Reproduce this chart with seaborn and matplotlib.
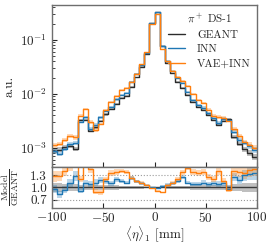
import numpy as np
import pandas as pd
import matplotlib
matplotlib.use("Agg")
import matplotlib.pyplot as plt
import seaborn as sns

# bin edges of the <eta>_1 histogram [mm]
edges = np.linspace(-100, 100, 41)

# GEANT reference, log10 of normalised counts per bin
geant_log = [-3.05, -3.03, -2.99, -2.96, -3.02, -2.48, -2.48, -2.68, -2.62, -2.50,
             -2.38, -2.28, -2.18, -2.08, -2.03, -1.87, -1.69, -1.50, -1.26, -0.69,
             -0.48, -1.12, -1.42, -1.62, -1.77, -1.89, -2.02, -2.14, -2.24, -2.30,
             -2.39, -2.48, -2.57, -2.50, -2.47, -2.80, -2.92, -3.02, -3.09, -3.16]

# model / GEANT ratios
ratio_inn = [0.97, 0.83, 0.95, 1.10, 1.28, 0.92, 1.12, 1.08, 1.12, 1.18,
             1.15, 1.10, 1.20, 1.16, 1.12, 1.22, 1.15, 1.10, 1.05, 1.00,
             0.99, 1.03, 1.07, 1.10, 1.15, 1.25, 1.12, 1.08, 1.08, 1.12,
             1.08, 1.10, 1.08, 1.10, 0.97, 1.25, 1.18, 1.30, 1.32, 1.35]
ratio_vae = [1.27, 1.28, 1.40, 1.55, 1.65, 1.20, 1.60, 1.45, 0.90, 0.88,
             1.20, 1.35, 1.38, 1.40, 1.38, 1.22, 1.15, 1.12, 1.07, 0.98,
             0.92, 0.88, 1.05, 1.12, 1.20, 1.37, 1.48, 1.38, 1.35, 1.37,
             1.25, 1.20, 1.40, 1.15, 0.95, 1.40, 1.38, 1.35, 1.42, 1.45]

# relative statistical uncertainty per bin
rel_err = [0.10, 0.10, 0.09, 0.09, 0.09, 0.06, 0.06, 0.07, 0.07, 0.06,
           0.05, 0.05, 0.05, 0.04, 0.04, 0.04, 0.03, 0.03, 0.02, 0.01,
           0.01, 0.02, 0.03, 0.03, 0.04, 0.04, 0.04, 0.05, 0.05, 0.05,
           0.06, 0.06, 0.07, 0.06, 0.06, 0.08, 0.09, 0.10, 0.11, 0.12]

models = ["GEANT", "INN", "VAE+INN"]
colors = {"GEANT": "#2b2b2b", "INN": "#1f77b4", "VAE+INN": "#ff7f0e"}

sns.set_style("ticks")
plt.rcParams["font.family"] = "serif"
plt.rcParams["font.serif"] = ["cmr10"]
plt.rcParams["mathtext.fontset"] = "cm"
plt.rcParams["axes.formatter.use_mathtext"] = True
plt.rcParams["font.size"] = 9.5
plt.rcParams["axes.edgecolor"] = "#6e6e6e"
plt.rcParams["axes.linewidth"] = 1.0

geant = 10 ** np.array(geant_log)
err = np.array(rel_err)
vals = {"GEANT": geant,
        "INN": geant * np.array(ratio_inn),
        "VAE+INN": geant * np.array(ratio_vae)}
ratios = {"GEANT": np.ones_like(geant),
          "INN": np.array(ratio_inn),
          "VAE+INN": np.array(ratio_vae)}

# long-form frames, last value repeated so steps reach the right edge
rows, rrows = [], []
for m in models:
    v = np.append(vals[m], vals[m][-1])
    r = np.append(ratios[m], ratios[m][-1])
    for x, y, q in zip(edges, v, r):
        rows.append({"x": x, "y": y, "model": m})
        rrows.append({"x": x, "y": q, "model": m})
df = pd.DataFrame(rows)
df_ratio = pd.DataFrame(rrows)

fig = plt.figure(figsize=(2.74, 2.47), dpi=100)
ax1 = fig.add_axes([0.19, 0.324, 0.748, 0.656])
ax2 = fig.add_axes([0.19, 0.158, 0.748, 0.166], sharex=ax1)

e_ext = np.append(err, err[-1])
for m in models:
    v = np.append(vals[m], vals[m][-1])
    ax1.fill_between(edges, v * (1 - e_ext), v * (1 + e_ext), step="post",
                     color=colors[m], alpha=0.3, lw=0)
    r = np.append(ratios[m], ratios[m][-1])
    ax2.fill_between(edges, r * (1 - e_ext), r * (1 + e_ext), step="post",
                     color=colors[m], alpha=0.3, lw=0)

sns.lineplot(data=df, x="x", y="y", hue="model", hue_order=models, palette=colors,
             drawstyle="steps-post", errorbar=None, lw=1.0, ax=ax1)
ax1.set_yscale("log")
ax1.set_ylim(4.45e-4, 0.445)
ax1.set_xlim(-100, 100)
ax1.set_xlabel("")
ax1.set_ylabel("a.u.")
ax1.tick_params(labelbottom=False)
ax1.tick_params(which="both", direction="in")
ax1.legend(title=r"$\pi^+$ DS-1", frameon=False, loc="upper right",
           handlelength=1.5, handletextpad=1.1, labelspacing=0.45,
           borderaxespad=0.15, fontsize=8, title_fontsize=8)

ax2.axhline(1.0, color="#3a3a3a", lw=1.0, zorder=1)
ax2.axhline(1.3, color="#9a9a9a", lw=0.8, ls=":", zorder=1)
ax2.axhline(0.7, color="#9a9a9a", lw=0.8, ls=":", zorder=1)
sns.lineplot(data=df_ratio[df_ratio.model != "GEANT"], x="x", y="y", hue="model",
             hue_order=models[1:], palette=colors, drawstyle="steps-post",
             errorbar=None, lw=1.0, ax=ax2, legend=False)
ax2.set_ylim(0.5, 1.5)
ax2.set_yticks([0.7, 1.0, 1.3])
ax2.set_yticklabels(["0.7", "1.0", "1.3"])
ax2.set_xticks([-100, -50, 0, 50, 100])
ax2.tick_params(which="both", direction="in")
ax2.tick_params(axis="x", pad=2)
ax2.set_xlabel(r"$\langle\eta\rangle_1$ [mm]", labelpad=0)
ax2.set_ylabel(r"$\frac{\mathrm{Model}}{\mathrm{GEANT}}$", fontsize=10)
ax1.yaxis.set_label_coords(-0.18, 0.5)
ax2.yaxis.set_label_coords(-0.15, 0.5)

fig.savefig("out.png", dpi=100)
